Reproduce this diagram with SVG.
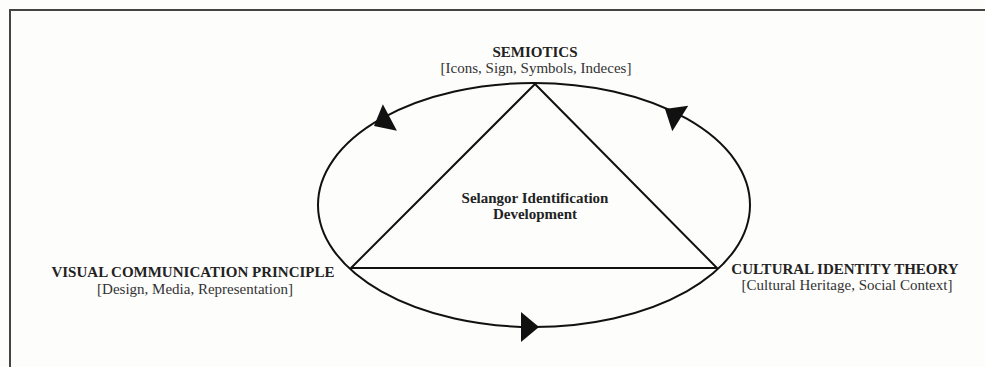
<svg xmlns="http://www.w3.org/2000/svg" width="985" height="367" viewBox="0 0 985 367">
<style>
.frame{fill:none;stroke:#444;stroke-width:2}
.line{fill:none;stroke:#111;stroke-width:2}
.b{font-family:"Liberation Serif","Times New Roman",serif;font-weight:bold;font-size:15px;fill:#222;text-anchor:middle}
.r{font-family:"Liberation Serif","Times New Roman",serif;font-size:15px;fill:#333;text-anchor:middle}
</style>
<defs>
<polygon id="ah" points="0,0 -18,-15 -18,15" fill="#111"/>
</defs>
<rect width="985" height="367" fill="#fdfdfc"/>
<path class="frame" d="M10,367 V10 H985"/>
<g id="connectors">
<ellipse class="line" cx="534" cy="205" rx="216" ry="122"/>
<use href="#ah" transform="translate(539,327)"/>
<use href="#ah" transform="translate(665,109) rotate(212)"/>
<use href="#ah" transform="translate(374,126) rotate(152)"/>
</g>
<g id="triangle">
<polygon class="line" points="535,84 351,268 717,268"/>
</g>
<g id="center">
<text class="b" x="535" y="203">Selangor Identification</text>
<text class="b" x="535" y="219">Development</text>
</g>
<g id="semiotics">
<text class="b" x="535" y="57">SEMIOTICS</text>
<text class="r" x="536" y="73">[Icons, Sign, Symbols, Indeces]</text>
</g>
<g id="visual">
<text class="b" x="193" y="277">VISUAL COMMUNICATION PRINCIPLE</text>
<text class="r" x="195" y="294">[Design, Media, Representation]</text>
</g>
<g id="cultural">
<text class="b" x="845" y="274">CULTURAL IDENTITY THEORY</text>
<text class="r" x="847" y="290">[Cultural Heritage, Social Context]</text>
</g>
</svg>
